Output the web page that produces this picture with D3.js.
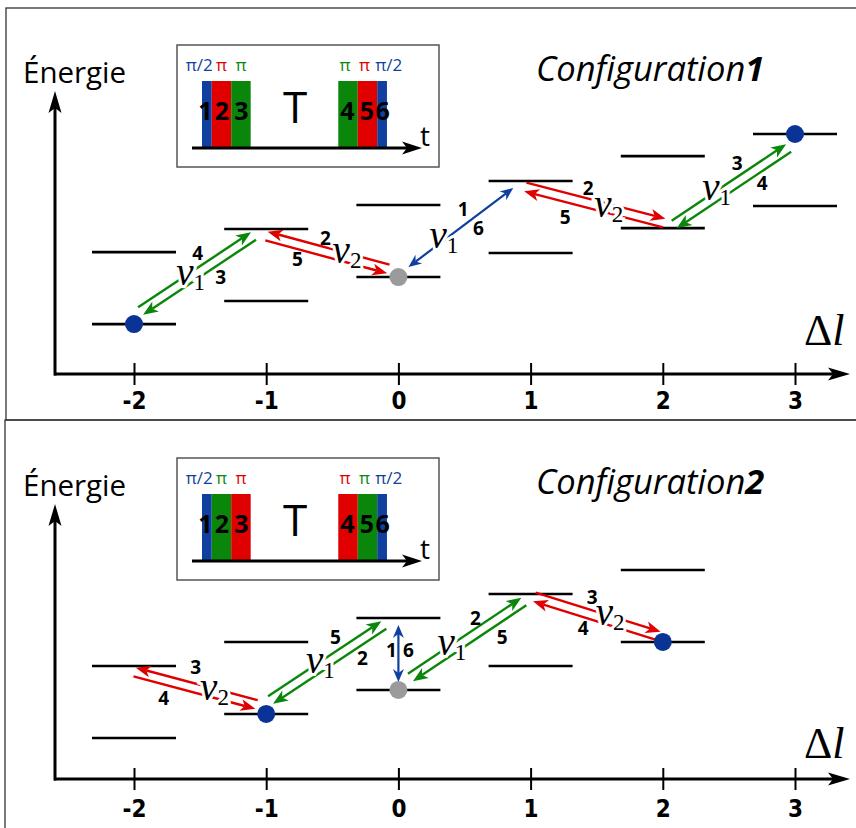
<!DOCTYPE html>
<html><head><meta charset="utf-8">
<script src="https://cdn.jsdelivr.net/npm/d3@7"></script>
<style>body{margin:0;background:#fff} svg{display:block}</style>
</head><body>
<svg id="c" width="856" height="828"></svg>
<script>
// ---------------- DATA ----------------
const deltaL = [-2, -1, 0, 1, 2, 3];
const tickLabels = ["-2", "-1", "0", "1", "2", "3"];

// Configuration 1 : energy levels (arbitrary units) for each Δl
const cfg1Levels = [-2, -1, 0, 1, 2, 3];
const cfg1Lower = [2.08, 3.04, 4.04, 5.04, 6.08, 7.00];
const cfg1Upper = [5.08, 6.04, 7.04, 8.04, 9.08, 10.00];
const cfg1Atoms = [{l: -2, level: "lower", kind: "atom"}, {l: 0, level: "lower", kind: "ref"}, {l: 3, level: "upper", kind: "atom"}];
const cfg1Transitions = [
  {kind: "nu1", from: [-1.950, 2.625], to: [-1.096, 5.750], upperTo: "to",   nu: "1", nuAt: [-1.572, 3.708], nums: ["4", "3"], numAt: [[-1.519, 5.042], [-1.345, 4.042]]},
  {kind: "nu2", from: [-0.998, 5.750], to: [-0.076, 4.375], upperTo: "from", nu: "2", nuAt: [-0.389, 4.625], nums: ["2", "5"], numAt: [[-0.552, 5.667], [-0.763, 4.792]]},
  {kind: "split", from: [0.076, 4.458], to: [0.869, 7.750], nu: "1", nuAt: [0.344, 5.250], nums: ["1", "6"], numAt: [[0.491, 6.875], [0.605, 6.083]]},
  {kind: "nu2", from: [0.960, 7.792], to: [2.011, 6.292], upperTo: "to",   nu: "2", nuAt: [1.591, 6.542], nums: ["2", "5"], numAt: [[1.436, 7.750], [1.262, 6.542]]},
  {kind: "nu1", from: [2.086, 6.229], to: [2.952, 9.417], upperTo: "to",   nu: "1", nuAt: [2.407, 7.250], nums: ["3", "4"], numAt: [[2.562, 8.792], [2.751, 7.958]]}
];
const cfg1PulseKinds = [["split", "nu2", "nu1"], ["nu1", "nu2", "split"]];
const cfg1PulseLabels = [["π/2", "π", "π"], ["π", "π", "π/2"]];

// Configuration 2
const cfg2Levels = [-2, -1, 0, 1, 2];
const cfg2Lower = [1.71, 2.71, 3.71, 4.71, 5.71];
const cfg2Upper = [4.71, 5.71, 6.71, 7.71, 8.71];
const cfg2Atoms = [{l: -1, level: "lower", kind: "atom"}, {l: 0, level: "lower", kind: "ref"}, {l: 2, level: "lower", kind: "atom"}];
const cfg2Transitions = [
  {kind: "nu2", from: [-1.995, 4.458], to: [-1.073, 3.104], upperTo: "from", nu: "2", nuAt: [-1.391, 3.292], nums: ["3", "4"], numAt: [[-1.534, 4.667], [-1.776, 3.375]]},
  {kind: "nu1", from: [-0.967, 3.292], to: [-0.110, 6.417], upperTo: "to",   nu: "1", nuAt: [-0.590, 4.417], nums: ["5", "2"], numAt: [[-0.476, 5.917], [-0.272, 5.042]]},
  {kind: "split", from: [0, 4.042], to: [0, 6.417], nu: null, nuAt: null, nums: ["1", "6"], numAt: [[-0.053, 5.375], [0.076, 5.375]]},
  {kind: "nu1", from: [0.091, 4.229], to: [0.949, 7.396], upperTo: "to",   nu: "1", nuAt: [0.404, 5.167], nums: ["2", "5"], numAt: [[0.582, 6.708], [0.786, 5.917]]},
  {kind: "nu2", from: [1.028, 7.583], to: [1.973, 5.958], upperTo: "to",   nu: "2", nuAt: [1.602, 6.417], nums: ["3", "4"], numAt: [[1.466, 7.600], [1.398, 6.292]]}
];
const cfg2PulseKinds = [["split", "nu1", "nu2"], ["nu2", "nu1", "split"]];
const cfg2PulseLabels = [["π/2", "π", "π"], ["π", "π", "π/2"]];

// pulse timing (in units of a π pulse)
const pulseDur = [[0.5, 1, 1], [1, 1, 0.5]];
const darkTime = 4.5;
const pulseNumbers = [["1", "2", "3"], ["4", "5", "6"]];

// ---------------- STYLE / LAYOUT ----------------
const COL = {nu1: "#0a870a", nu2: "#e00000", split: "#0f3f9f"};
const ATOM = {atom: "#0a3396", ref: "#9b9b9b"};
const SANS = "'Open Sans', 'DejaVu Sans', sans-serif";
const SERIF = "'Liberation Serif', 'DejaVu Serif', serif";
const NARROW = "'Liberation Sans Narrow', 'DejaVu Sans Condensed', sans-serif";

const svg = d3.select("#c");
// frames
svg.append("rect").attr("x", 6).attr("y", 8).attr("width", 900).attr("height", 412)
  .attr("fill", "none").attr("stroke", "#333").attr("stroke-width", 1.3);
svg.append("rect").attr("x", 5).attr("y", 420).attr("width", 900).attr("height", 420)
  .attr("fill", "none").attr("stroke", "#333").attr("stroke-width", 1.3);

const x = d3.scaleLinear().domain([-2, 3]).range([134, 795]);

function head(g, tip, d, color, L, W, notch) {
  const p = [-d[1], d[0]];
  const b = [tip[0] - L * d[0], tip[1] - L * d[1]];
  const m = [tip[0] - (L - notch) * d[0], tip[1] - (L - notch) * d[1]];
  const pts = [tip, [b[0] + W * p[0], b[1] + W * p[1]], m, [b[0] - W * p[0], b[1] - W * p[1]]];
  g.append("path").attr("d", "M" + pts.map(q => q.join(",")).join("L") + "Z").attr("fill", color);
  return m;
}

function arrowLine(g, A, B, color, heads, sw, L, W, notch) {
  const dx = B[0] - A[0], dy = B[1] - A[1], len = Math.hypot(dx, dy);
  const u = [dx / len, dy / len];
  let a = A, b = B;
  if (heads.end) b = head(g, B, u, color, L, W, notch);
  if (heads.start) a = head(g, A, [-u[0], -u[1]], color, L, W, notch);
  g.append("line").attr("x1", a[0]).attr("y1", a[1]).attr("x2", b[0]).attr("y2", b[1])
    .attr("stroke", color).attr("stroke-width", sw);
}

function panel(opt) {
  const g = svg.append("g");
  const oy = opt.oy;
  const y = d3.scaleLinear().domain([0, 12]).range([opt.axisY, opt.axisY - 288]);

  // y axis title
  g.append("text").attr("x", 23).attr("y", 83 + oy).text("Énergie")
    .attr("font-family", SANS).attr("font-size", 29.5).attr("fill", "#000");
  // configuration title
  const ct = g.append("text").attr("x", 536).attr("y", 81 + oy)
    .attr("font-family", SANS).attr("font-size", 34.5).attr("font-style", "italic").attr("fill", "#000");
  ct.append("tspan").text("Configuration");
  ct.append("tspan").text(opt.num).attr("font-weight", "bold");

  // axes
  arrowLine(g, [55, opt.axisY + 1.5], [55, 91 + oy], "#000", {end: true}, 3, 22, 6.5, 5);
  arrowLine(g, [54, opt.axisY], [850, opt.axisY], "#000", {end: true}, 3, 22, 6.5, 5);
  const axis = d3.axisBottom(x).tickValues(deltaL).tickFormat((d, i) => tickLabels[i]).tickSizeOuter(0);
  const ag = g.append("g").attr("transform", `translate(0,${opt.axisY})`).call(axis);
  ag.select(".domain").remove();
  ag.selectAll(".tick line").attr("y1", -11).attr("y2", 11).attr("stroke", "#000").attr("stroke-width", 2);
  ag.selectAll(".tick text").attr("y", opt.labelGap).attr("dy", "0.72em").attr("fill", "#000")
    .attr("font-family", NARROW).attr("font-weight", "bold").attr("font-size", 24);

  // Δl
  const dl = g.append("text").attr("x", 804).attr("y", 345 + oy).attr("font-family", SERIF).attr("font-size", 44).attr("fill", "#000");
  dl.append("tspan").text("Δ");
  dl.append("tspan").text("l").attr("font-style", "italic");

  // energy levels
  opt.levels.forEach((l, i) => {
    [opt.lower[i], opt.upper[i]].forEach(e => {
      g.append("line").attr("x1", x(l) - 42).attr("x2", x(l) + 42).attr("y1", y(e)).attr("y2", y(e))
        .attr("stroke", "#000").attr("stroke-width", 2.6);
    });
  });

  // transitions
  const off = 4.5;
  opt.trans.forEach(t => {
    const c = COL[t.kind];
    const P = [x(t.from[0]), y(t.from[1])], Q = [x(t.to[0]), y(t.to[1])];
    if (t.kind === "split") {
      arrowLine(g, P, Q, c, {start: true, end: true}, 2.2, 13, 5.5, 4);
    } else {
      const dx = Q[0] - P[0], dy = Q[1] - P[1], len = Math.hypot(dx, dy);
      let n = [dy / len, -dx / len];
      if (n[1] > 0) n = [-n[0], -n[1]];
      const up = [[P[0] + off * n[0], P[1] + off * n[1]], [Q[0] + off * n[0], Q[1] + off * n[1]]];
      const lo = [[P[0] - off * n[0], P[1] - off * n[1]], [Q[0] - off * n[0], Q[1] - off * n[1]]];
      const upToB = t.upperTo === "to";
      arrowLine(g, up[0], up[1], c, upToB ? {end: true} : {start: true}, 2.4, 15, 6, 4);
      arrowLine(g, lo[0], lo[1], c, upToB ? {start: true} : {end: true}, 2.4, 15, 6, 4);
    }
  });
  // ν labels (white halo cuts the arrows)
  opt.trans.forEach(t => {
    if (!t.nuAt) return;
    const tx = g.append("text").attr("x", x(t.nuAt[0])).attr("y", y(t.nuAt[1]))
      .attr("text-anchor", "middle").attr("font-family", SERIF).attr("fill", "#000")
      .attr("stroke", "#fff").attr("stroke-width", 6).attr("paint-order", "stroke");
    tx.append("tspan").text("ν").attr("font-style", "italic").attr("font-size", 39);
    tx.append("tspan").text(t.nu).attr("font-size", 23).attr("dy", 5);
  });
  // pulse numbers on transitions
  opt.trans.forEach(t => {
    t.nums.forEach((s, i) => {
      g.append("text").attr("x", x(t.numAt[i][0])).attr("y", y(t.numAt[i][1]))
        .attr("text-anchor", "middle").attr("dominant-baseline", "central")
        .attr("font-family", SANS).attr("font-weight", "bold").attr("font-size", 19).attr("fill", "#000").text(s);
    });
  });
  // atoms
  opt.atoms.forEach(a => {
    const i = opt.levels.indexOf(a.l);
    const e = a.level === "upper" ? opt.upper[i] : opt.lower[i];
    g.append("circle").attr("cx", x(a.l)).attr("cy", y(e)).attr("r", 9).attr("fill", ATOM[a.kind]);
  });

  // inset: pulse sequence
  const ins = g.append("g").attr("transform", `translate(0,${oy})`);
  ins.append("rect").attr("x", 177).attr("y", 45).attr("width", 262).attr("height", 122)
    .attr("fill", "#fff").attr("stroke", "#555").attr("stroke-width", 1.5);
  const tS = d3.scaleLinear().domain([0, 11.3]).range([202, 422]);
  const blockStart = [0, 2.5 + darkTime];
  blockStart.forEach((s0, b) => {
    let s = s0;
    pulseDur[b].forEach((d, k) => {
      const kind = opt.pulseKinds[b][k];
      ins.append("rect").attr("x", tS(s)).attr("y", 81).attr("width", tS(s + d) - tS(s)).attr("height", 67)
        .attr("fill", COL[kind]);
      const lab = opt.pulseLabels[b][k];
      let lx = (tS(s) + tS(s + d)) / 2, anchor = "middle";
      if (lab === "π/2") { if (b === 0) { lx = tS(s + d) + 1; anchor = "end"; } else { lx = tS(s) - 2; anchor = "start"; } }
      else if (b === 1) lx -= 3;
      ins.append("text").attr("x", lx).attr("y", 71).attr("text-anchor", anchor)
        .attr("font-family", SANS).attr("font-size", 17).attr("fill", COL[kind]).text(lab);
      s += d;
    });
  });
  // pulse numbers (drawn after all rects)
  blockStart.forEach((s0, b) => {
    let s = s0;
    pulseDur[b].forEach((d, k) => {
      const cx = (tS(s) + tS(s + d)) / 2 - (d < 1 && b === 0 ? 2 : 0) - (b === 1 && k < 2 ? 1 : 0);
      ins.append("text").attr("x", cx).attr("y", 120).attr("text-anchor", "middle")
        .attr("font-family", SANS).attr("font-weight", "bold").attr("font-size", 25).attr("fill", "#000")
        .attr("letter-spacing", -1).text(pulseNumbers[b][k]);
      s += d;
    });
  });
  ins.append("text").attr("x", 295).attr("y", 123).attr("text-anchor", "middle")
    .attr("font-family", SANS).attr("font-size", 44).attr("fill", "#000").text("T");
  arrowLine(ins, [192, 148], [422, 148], "#000", {end: true}, 3, 20, 6.5, 5);
  ins.append("text").attr("x", 420).attr("y", 146).attr("font-family", SANS).attr("font-size", 28).attr("fill", "#000").text("t");
}

panel({oy: 0, axisY: 374, labelGap: 18, num: "1", levels: cfg1Levels, lower: cfg1Lower, upper: cfg1Upper,
  atoms: cfg1Atoms, trans: cfg1Transitions, pulseKinds: cfg1PulseKinds, pulseLabels: cfg1PulseLabels});
panel({oy: 413, axisY: 779, labelGap: 21, num: "2", levels: cfg2Levels, lower: cfg2Lower, upper: cfg2Upper,
  atoms: cfg2Atoms, trans: cfg2Transitions, pulseKinds: cfg2PulseKinds, pulseLabels: cfg2PulseLabels});
</script>
</body></html>
